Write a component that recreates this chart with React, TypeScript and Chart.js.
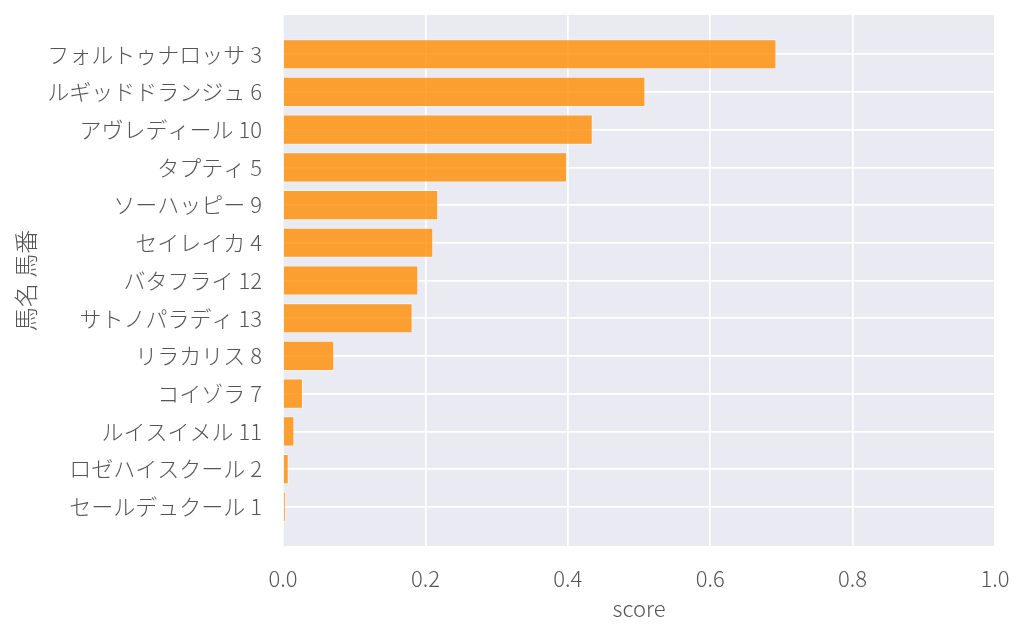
import React, { useEffect, useRef } from 'react';
import { Chart, registerables } from 'chart.js';

Chart.register(...registerables);

// horse name + number, top to bottom
const horses = [
  'フォルトゥナロッサ 3',
  'ルギッドドランジュ 6',
  'アヴレディール 10',
  'タプティ 5',
  'ソーハッピー 9',
  'セイレイカ 4',
  'バタフライ 12',
  'サトノパラディ 13',
  'リラカリス 8',
  'コイゾラ 7',
  'ルイスイメル 11',
  'ロゼハイスクール 2',
  'セールデュクール 1',
];

const scores = [0.693, 0.509, 0.435, 0.399, 0.218, 0.211, 0.19, 0.182, 0.072, 0.028, 0.016, 0.008, 0.004];

const xTicks = [0, 0.2, 0.4, 0.6, 0.8, 1.0];

const FONT = "'Noto Sans CJK JP Light', 'Noto Sans CJK JP DemiLight', 'Noto Sans CJK JP', 'Noto Sans', sans-serif";
const TEXT = '#555555';

// paint the seaborn-ish grey background behind the plot
const plotBg = {
  id: 'plotBg',
  beforeDraw(chart: any) {
    const { ctx, chartArea } = chart;
    ctx.save();
    ctx.fillStyle = '#eaeaf2';
    ctx.fillRect(chartArea.left, chartArea.top, chartArea.right - chartArea.left, chartArea.bottom - chartArea.top);
    ctx.restore();
  },
};

const ScoreChart: React.FC = () => {
  const canvasRef = useRef<HTMLCanvasElement>(null);
  const chartRef = useRef<Chart | null>(null);

  useEffect(() => {
    if (!canvasRef.current) return;
    if (chartRef.current) chartRef.current.destroy();

    chartRef.current = new Chart(canvasRef.current, {
      type: 'bar',
      data: {
        datasets: [
          {
            data: scores.map((v, i) => ({ x: v, y: i })),
            backgroundColor: 'rgba(255,140,0,0.8)',
            borderColor: 'rgba(255,255,255,0.5)',
            borderWidth: 1,
            barPercentage: 0.8,
            categoryPercentage: 1,
          },
        ],
      },
      options: {
        animation: false,
        responsive: false,
        indexAxis: 'y',
        layout: { padding: { top: 15, right: 29, bottom: 0, left: 0 } },
        plugins: { legend: { display: false }, tooltip: { enabled: false } },
        scales: {
          x: {
            type: 'linear',
            min: 0,
            max: 1,
            afterFit: (s: any) => {
              s.height = 92;
              s.paddingLeft = 0;
              s.paddingRight = 0;
            },
            afterBuildTicks: (s: any) => { s.ticks = xTicks.map((v) => ({ value: v })); },
            border: { display: false },
            grid: { color: '#ffffff', lineWidth: 1.7, drawTicks: false },
            ticks: {
              padding: 19,
              color: TEXT,
              font: { family: FONT, size: 22, weight: '300' },
              callback: (v: any) => Number(v).toFixed(1),
            },
            title: {
              display: true,
              text: 'score',
              color: TEXT,
              font: { family: FONT, size: 22, weight: '300' },
              padding: { top: 0, bottom: 16 },
            },
          },
          y: {
            type: 'linear',
            offset: false,
            min: -1.04,
            max: 13.04,
            reverse: true,
            afterFit: (s: any) => {
              s.width = 283;
              s.paddingTop = 0;
              s.paddingBottom = 0;
            },
            afterBuildTicks: (s: any) => { s.ticks = horses.map((_, i) => ({ value: i })); },
            border: { display: false },
            grid: { color: '#ffffff', lineWidth: 1.7, drawTicks: false, offset: false },
            ticks: {
              padding: 21,
              autoSkip: false,
              color: TEXT,
              font: { family: FONT, size: 22, weight: '300' },
              callback: (v: any) => horses[Number(v)] ?? '',
            },
            title: {
              display: true,
              text: '馬名 馬番',
              color: TEXT,
              font: { family: FONT, size: 24, weight: '300' },
              padding: { top: 11, bottom: 0 },
            },
          },
        },
      },
      plugins: [plotBg],
    });

    return () => {
      if (chartRef.current) {
        chartRef.current.destroy();
        chartRef.current = null;
      }
    };
  }, []);

  return <canvas ref={canvasRef} width={1024} height={638} style={{ display: 'block' }} />;
};

export default function App() {
  return (
    <div style={{ position: 'absolute', left: 0, top: 0, width: 1024, height: 638, background: '#fff' }}>
      <ScoreChart />
    </div>
  );
}
